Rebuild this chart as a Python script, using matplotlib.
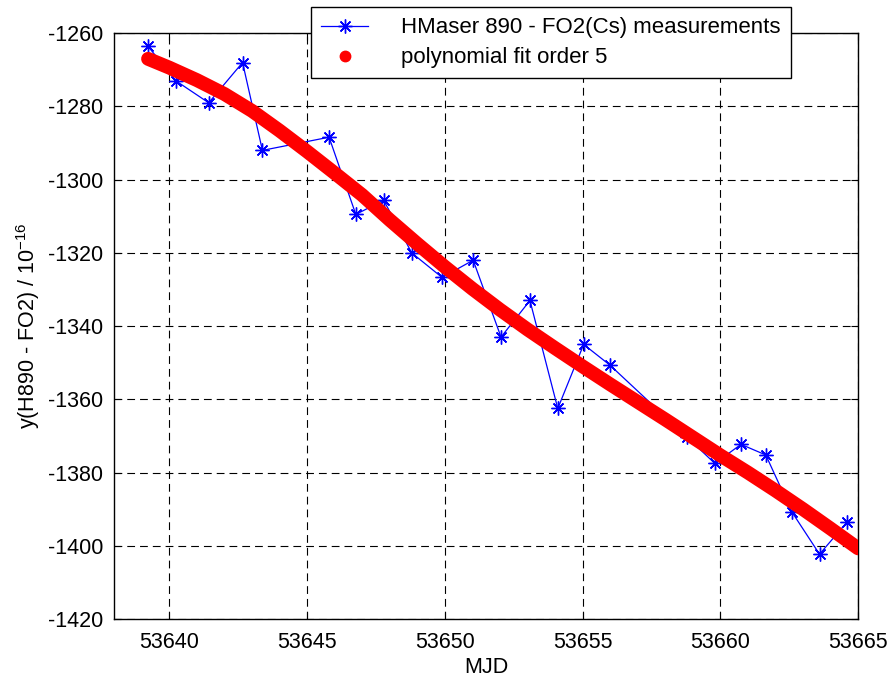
import matplotlib
matplotlib.use("Agg")
import matplotlib.pyplot as plt
from matplotlib.lines import Line2D

plt.rcParams['font.family'] = ['Liberation Sans', 'DejaVu Sans']
plt.rcParams['mathtext.default'] = 'regular'
plt.rcParams['axes.unicode_minus'] = False

# measurements H890 - FO2(Cs)
mjd = [53639.23, 53640.24, 53641.43, 53642.66, 53643.38, 53645.80, 53646.77,
       53647.78, 53648.80, 53649.90, 53651.03, 53652.04, 53653.09, 53654.10,
       53655.04, 53656.00, 53658.80, 53659.80, 53660.75, 53661.65, 53662.60,
       53663.60, 53664.60]
y_meas = [-1263.6, -1273.0, -1279.0, -1268.0, -1292.0, -1288.4, -1309.5,
          -1305.6, -1320.0, -1326.7, -1322.0, -1343.0, -1333.0, -1362.5,
          -1345.0, -1350.7, -1370.4, -1377.5, -1372.3, -1375.2, -1390.8,
          -1402.3, -1393.5]

# polynomial fit (order 5)
mjd_fit = [53639.23, 53640, 53641, 53642, 53643, 53644, 53645, 53646, 53647,
           53648, 53649, 53650, 53651, 53652, 53653, 53654, 53655, 53656,
           53657, 53658, 53659, 53660, 53661, 53662, 53663, 53664, 53665]
y_fit = [-1267.0, -1269.4, -1272.8, -1276.6, -1281.2, -1286.6, -1292.3,
         -1298.2, -1304.2, -1311.0, -1317.5, -1323.8, -1329.8, -1335.5,
         -1340.9, -1346.0, -1351.0, -1355.9, -1360.7, -1365.5, -1370.4,
         -1375.3, -1380.0, -1384.9, -1390.0, -1395.3, -1400.7]

fig = plt.figure(figsize=(8.92, 6.78), dpi=100)
ax = fig.add_axes([0.128, 0.087, 0.834, 0.864])

ax.plot(mjd_fit, y_fit, color='red', lw=10, solid_capstyle='round',
        solid_joinstyle='round', zorder=3)
ax.plot(mjd, y_meas, color='blue', lw=0.9, marker=(8, 2, 0), markersize=10,
        markeredgewidth=1.0, zorder=2)

ax.set_xlim(53638, 53665)
ax.set_ylim(-1420, -1260)
ax.set_xticks([53640, 53645, 53650, 53655, 53660, 53665])
ax.set_yticks(range(-1420, -1259, 20))
ax.grid(True, color='black', linestyle=(0, (7, 4.5)), lw=0.8)
ax.tick_params(direction='in', top=True, right=True, length=5, labelsize=15.5)
ax.tick_params(axis='x', pad=9)
ax.tick_params(axis='y', pad=8)
for s in ax.spines.values():
    s.set_linewidth(1.0)

ax.set_xlabel('MJD', fontsize=15.5, labelpad=3)
ax.set_ylabel('y(H890 - FO2) / 10$^{-16}$', fontsize=15.5, labelpad=4)

handles = [Line2D([], [], color='blue', lw=0.9, marker=(8, 2, 0), markersize=10,
                  markevery=[1]),
           Line2D([], [], color='red', lw=0, marker='o', markersize=7.5)]
leg = fig.legend(handles, ['HMaser 890 - FO2(Cs) measurements', 'polynomial fit order 5'],
                 loc='upper left', bbox_to_anchor=(0.349, 0.989), fontsize=16,
                 frameon=True, fancybox=False, edgecolor='black', framealpha=1,
                 borderpad=0.45, labelspacing=0.4, handlelength=2.1,
                 handletextpad=1.5, borderaxespad=0)
leg.get_frame().set_linewidth(1.0)

fig.savefig('out.png', dpi=100)
